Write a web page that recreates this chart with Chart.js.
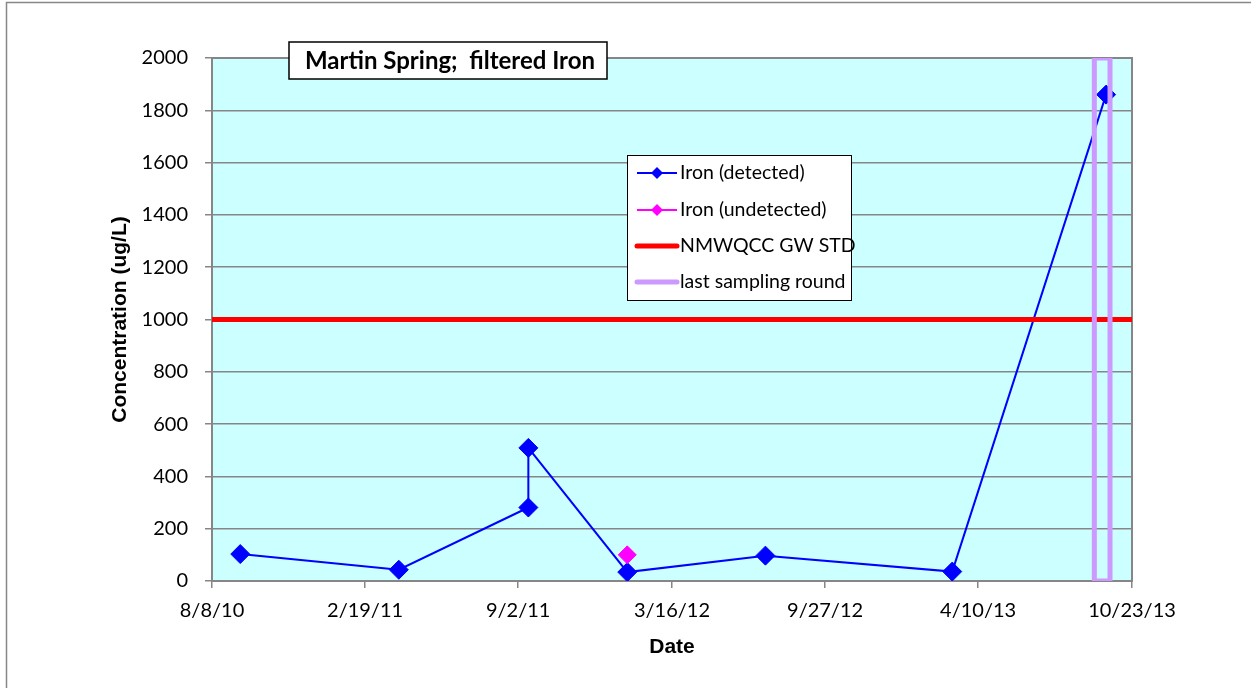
<!DOCTYPE html>
<html>
<head>
<meta charset="utf-8">
<script src="https://cdn.jsdelivr.net/npm/chart.js@4.4.1/dist/chart.umd.min.js"></script>
<style>
  body { margin: 0; background: #fff; }
  canvas { display: block; }
</style>
</head>
<body>
<canvas id="ironChart" width="1251" height="688"></canvas>
<script>
// values (dates as m/d/yy)
const detectedDates = ['9/13/10', '4/3/11', '9/15/11', '9/15/11', '1/19/12', '7/13/12', '3/8/13', '9/20/13'];
const detectedValues = [103, 43, 281, 509, 34, 97, 36, 1860];
const undetectedDates = ['1/19/12'];
const undetectedValues = [100];
const stdDates = ['8/8/10', '10/23/13'];
const stdValue = 1000;
const lastRoundDates = ['9/5/13', '9/25/13'];
const yTicks = [0, 200, 400, 600, 800, 1000, 1200, 1400, 1600, 1800, 2000];
const xTickLabels = ['8/8/10', '2/19/11', '9/2/11', '3/16/12', '9/27/12', '4/10/13', '10/23/13'];

const toDay = s => {
    const [m, d, y] = s.split('/').map(Number);
    return Date.UTC(2000 + y, m - 1, d) / 86400000;
};

const pairs = (dates, vals) => dates.map((d, i) => ({ x: toDay(d), y: vals[i] }));

const yMin = yTicks[0];
const yMax = yTicks[yTicks.length - 1];
const xMin = toDay(xTickLabels[0]);
const xMax = toDay(xTickLabels[xTickLabels.length - 1]);

// rectangle outline marking the last sampling round
const lastRound = [
    { x: toDay(lastRoundDates[0]), y: yMin },
    { x: toDay(lastRoundDates[0]), y: yMax },
    { x: toDay(lastRoundDates[1]), y: yMax },
    { x: toDay(lastRoundDates[1]), y: yMin },
    { x: toDay(lastRoundDates[0]), y: yMin }
];

const datasets = [
    {
        label: 'Iron (detected)',
        data: pairs(detectedDates, detectedValues),
        showLine: true,
        borderColor: '#0000FF',
        backgroundColor: '#0000FF',
        borderWidth: 2,
        pointStyle: 'rectRot',
        pointRadius: 9.5,
        pointBorderWidth: 1,
        order: 3
    },
    {
        label: 'Iron (undetected)',
        data: pairs(undetectedDates, undetectedValues),
        showLine: true,
        borderColor: '#FF00FF',
        backgroundColor: '#FF00FF',
        borderWidth: 2,
        pointStyle: 'rectRot',
        pointRadius: 9,
        pointBorderWidth: 1,
        order: 2
    },
    {
        label: 'NMWQCC GW STD',
        data: stdDates.map(d => ({ x: toDay(d), y: stdValue })),
        showLine: true,
        borderColor: '#FF0000',
        backgroundColor: '#FF0000',
        borderWidth: 5,
        pointRadius: 0,
        order: 1
    },
    {
        label: 'last sampling round',
        data: lastRound,
        showLine: true,
        borderColor: '#CC99FF',
        backgroundColor: '#CC99FF',
        borderWidth: 5,
        pointRadius: 0,
        order: 0
    }
];

// plot background, outer frame and plot border
const plotFrame = {
    id: 'plotFrame',
    beforeDraw(chart) {
        const { ctx, chartArea: a } = chart;
        ctx.save();
        ctx.fillStyle = '#fff';
        ctx.fillRect(0, 0, chart.width, chart.height);
        ctx.fillStyle = '#CCFFFF';
        ctx.fillRect(a.left, a.top, a.right - a.left, a.bottom - a.top);
        ctx.strokeStyle = '#888';
        ctx.lineWidth = 1.5;
        ctx.beginPath();
        ctx.moveTo(6.5, chart.height);
        ctx.lineTo(6.5, 2.5);
        ctx.lineTo(chart.width, 2.5);
        ctx.stroke();
        ctx.restore();
    },
    beforeDatasetsDraw(chart) {
        const { ctx, chartArea: a } = chart;
        ctx.save();
        ctx.strokeStyle = '#868686';
        ctx.lineWidth = 2;
        ctx.strokeRect(a.left, a.top, a.right - a.left, a.bottom - a.top);
        ctx.restore();
    }
};

// title box and legend box drawn inside the plot like the spreadsheet chart
const boxes = {
    id: 'boxes',
    afterDraw(chart) {
        const { ctx } = chart;
        ctx.save();

        // title
        ctx.fillStyle = '#fff';
        ctx.fillRect(289, 42, 318, 37);
        ctx.strokeStyle = '#000';
        ctx.lineWidth = 1.5;
        ctx.strokeRect(289, 42, 318, 37);
        ctx.fillStyle = '#000';
        ctx.font = 'bold 24px Lato';
        ctx.textAlign = 'center';
        ctx.textBaseline = 'middle';
        ctx.fillText('Martin Spring;  filtered Iron', 450, 61);

        // legend
        const lx = 627, ly = 155, lw = 224, lh = 145;
        ctx.fillStyle = '#fff';
        ctx.fillRect(lx, ly, lw, lh);
        ctx.strokeStyle = '#000';
        ctx.lineWidth = 1;
        ctx.strokeRect(lx + 0.5, ly + 0.5, lw, lh);
        const rows = [173, 210, 246, 282];
        chart.data.datasets.forEach((ds, i) => {
            const y = rows[i];
            ctx.strokeStyle = ds.borderColor;
            ctx.lineWidth = ds.borderWidth;
            ctx.lineCap = ds.borderWidth > 3 ? 'round' : 'butt';
            ctx.beginPath();
            ctx.moveTo(637, y);
            ctx.lineTo(677, y);
            ctx.stroke();
            if (ds.pointRadius > 0) {
                const r = 6;
                ctx.fillStyle = ds.backgroundColor;
                ctx.beginPath();
                ctx.moveTo(657 - r, y);
                ctx.lineTo(657, y - r);
                ctx.lineTo(657 + r, y);
                ctx.lineTo(657, y + r);
                ctx.closePath();
                ctx.fill();
            }
            ctx.fillStyle = '#000';
            ctx.font = '19.5px Lato';
            ctx.textAlign = 'left';
            ctx.textBaseline = 'middle';
            ctx.fillText(ds.label, 680, y);
        });
        ctx.restore();
    }
};

const config = {
    type: 'scatter',
    data: { datasets: datasets },
    options: {
        responsive: false,
        animation: false,
        layout: { padding: { top: 58, right: 119, left: 0, bottom: 0 } },
        plugins: {
            legend: { display: false },
            tooltip: { enabled: false }
        },
        scales: {
            x: {
                type: 'linear',
                min: xMin,
                max: xMax,
                afterBuildTicks: scale => {
                    scale.ticks = xTickLabels.map(s => ({ value: toDay(s) }));
                },
                afterFit: scale => { scale.height = 107; },
                grid: { drawOnChartArea: false, drawTicks: true, tickLength: 7, color: '#868686', lineWidth: 1.5 },
                border: { color: '#868686', width: 2 },
                ticks: {
                    color: '#000',
                    font: { family: 'Lato', size: 20 },
                    padding: 11,
                    maxRotation: 0,
                    autoSkip: false,
                    callback: (value, index) => xTickLabels[index]
                },
                title: {
                    display: true,
                    text: 'Date',
                    color: '#000',
                    font: { family: 'Liberation Sans', size: 21, weight: 'bold' },
                    padding: { top: 0, bottom: 28 }
                }
            },
            y: {
                min: yMin,
                max: yMax,
                afterBuildTicks: scale => {
                    scale.ticks = yTicks.map(v => ({ value: v }));
                },
                afterFit: scale => { scale.width = 212; },
                grid: { drawOnChartArea: true, drawTicks: true, tickLength: 7, color: '#868686', lineWidth: 1.5 },
                border: { color: '#868686', width: 2 },
                ticks: {
                    color: '#000',
                    font: { family: 'Lato', size: 20 },
                    padding: 17,
                    callback: value => String(value)
                },
                title: {
                    display: true,
                    text: 'Concentration (ug/L)',
                    color: '#000',
                    font: { family: 'Liberation Sans', size: 21, weight: 'bold' },
                    padding: { top: 108, bottom: 0 }
                }
            }
        }
    },
    plugins: [plotFrame, boxes]
};

const ironChart = new Chart(document.getElementById('ironChart'), config);
</script>
</body>
</html>
